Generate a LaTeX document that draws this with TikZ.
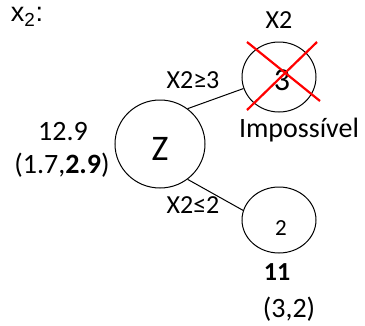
\documentclass[tikz,border=0pt]{standalone}
\usepackage{fontspec}
\setmainfont{Carlito}
\newfontfamily\arialfont{Liberation Sans}
\usetikzlibrary{shapes.geometric}
\begin{document}
\begin{tikzpicture}[x=1pt,y=-1pt,
  nodecirc/.style={draw,ellipse,line width=1pt,inner sep=0pt},
  lbl/.style={inner sep=0pt,font=\fontsize{28}{30}\selectfont},
  edgelbl/.style={inner sep=0pt,font=\fontsize{26}{28}\selectfont},
  conn/.style={line width=1pt},
  cross/.style={draw=red,line width=2.2pt}]
\useasboundingbox (0,0) rectangle (365,325);
\node[nodecirc,minimum width=90pt,minimum height=88pt] (z) at (160,144) {};
\node[lbl,font=\fontsize{36}{38}\selectfont] (zt) at (160,149) {Z};
\node[nodecirc,minimum width=74pt,minimum height=70pt] (c3) at (279,77) {};
\node[lbl,font=\fontsize{32}{34}\selectfont] (t3) at (282,80) {3};
\node[nodecirc,minimum width=74pt,minimum height=66pt] (c2) at (279,220) {};
\node[lbl,font=\fontsize{23}{25}\selectfont] (t2) at (281,228) {2};
\draw[conn] (z.52) -- (c3.198);
\draw[conn] (z.-52) -- (c2.165);
\coordinate (xa) at (247,42);
\coordinate (xb) at (320,101);
\coordinate (xc) at (317,42);
\coordinate (xd) at (247,110);
\draw[cross] (xa) -- (xb);
\draw[cross] (xc) -- (xd);
\node[lbl,font=\arialfont\fontsize{27}{29}\selectfont] (x2) at (27,17) {x\textsubscript{2}:};
\node[edgelbl] (topx2) at (279,20) {X2};
\node[edgelbl] (ge) at (193,80) {X2≥3};
\node[lbl] (imp) at (299,130) {Impossível};
\node[lbl] (v129) at (63,132) {12.9};
\node[lbl] (sol1) at (62,165) {(1.7,\textbf{2.9})};
\node[edgelbl] (le) at (193,205) {X2≤2};
\node[lbl,font=\fontsize{26}{28}\selectfont] (v11) at (277,272) {\textbf{11}};
\node[lbl] (sol2) at (289,309) {(3,2)};
\end{tikzpicture}
\end{document}
